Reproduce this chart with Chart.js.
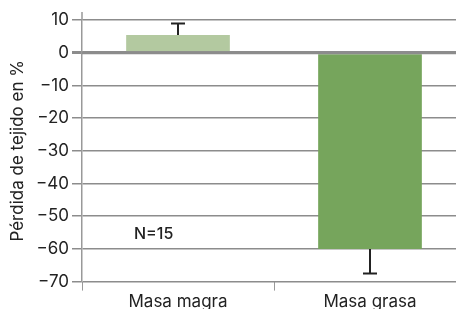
<!DOCTYPE html>
<html>
<head>
<meta charset="utf-8">
<script src="https://cdn.jsdelivr.net/npm/chart.js@4"></script>
<style>
  html, body { margin: 0; padding: 0; background: #fff; overflow: hidden; }
  #wrap { width: 466px; height: 313px; position: relative; }
</style>
</head>
<body>
<div id="wrap"><canvas id="chart"></canvas></div>
<script>
const categories = ['Masa magra', 'Masa grasa'];
const values = [5.4, -60];
const errors = [3.5, -7.5];
const barColors = ['#b3c9a0', '#76a55c'];
const yMin = -70, yMax = 10, yStep = 10;
const note = 'N=15';

const FONT = 'Inter, "Noto Sans", sans-serif';

const errorBars = {
    id: 'errorBars',
    afterDatasetsDraw(chart) {
        const ctx = chart.ctx;
        const y = chart.scales.y;
        const area = chart.chartArea;
        const meta = chart.getDatasetMeta(0);
        ctx.save();
        // zero line over the bars
        const y0line = y.getPixelForValue(0);
        ctx.strokeStyle = '#8c8c8c';
        ctx.lineWidth = 3;
        ctx.beginPath();
        ctx.moveTo(area.left, y0line);
        ctx.lineTo(area.right, y0line);
        ctx.stroke();

        ctx.strokeStyle = '#222';
        ctx.lineWidth = 2;
        meta.data.forEach((bar, i) => {
            const y0 = y.getPixelForValue(values[i]);
            const y1 = y.getPixelForValue(values[i] + errors[i]);
            ctx.beginPath();
            ctx.moveTo(bar.x, y0);
            ctx.lineTo(bar.x, y1);
            ctx.moveTo(bar.x - 7, y1);
            ctx.lineTo(bar.x + 7, y1);
            ctx.stroke();
        });
        // axis line sticks out a bit above the top
        ctx.strokeStyle = '#999';
        ctx.lineWidth = 1.5;
        ctx.beginPath();
        ctx.moveTo(area.left, area.top);
        ctx.lineTo(area.left, area.top - 8);
        ctx.stroke();
        // N label
        ctx.fillStyle = '#222';
        ctx.font = '500 16px ' + FONT;
        ctx.textBaseline = 'middle';
        ctx.fillText(note, chart.scales.x.getPixelForValue(0) - 44, y.getPixelForValue(-55.5));
        ctx.restore();
    }
};

new Chart(document.getElementById('chart'), {
    type: 'bar',
    data: {
        labels: categories,
        datasets: [{
            data: values,
            backgroundColor: barColors,
            borderWidth: 0,
            barPercentage: 0.54,
            categoryPercentage: 1
        }]
    },
    options: {
        responsive: true,
        maintainAspectRatio: false,
        animation: false,
        layout: { padding: { top: 20, left: 0, right: 0, bottom: 0 } },
        plugins: { legend: { display: false }, tooltip: { enabled: false } },
        scales: {
            x: {
                grid: { offset: true, drawOnChartArea: false, tickLength: 9, color: '#999', lineWidth: 1 },
                border: { display: false },
                ticks: { color: '#222', font: { family: FONT, size: 17 }, padding: 1 }
            },
            y: {
                min: yMin,
                max: yMax,
                afterFit(scale) { scale.width = 82; },
                grid: {
                    color: '#8c8c8c',
                    lineWidth: ctx => ctx.tick && ctx.tick.value === 0 ? 3 : 1.5,
                    tickLength: 10
                },
                border: { color: '#999', width: 1.5 },
                ticks: {
                    stepSize: yStep,
                    color: '#222',
                    padding: 3,
                    font: { family: FONT, size: 17 },
                    callback: v => String(v).replace('-', '\u2212')
                },
                title: {
                    display: true,
                    text: 'Pérdida de tejido en %',
                    color: '#222',
                    font: { family: FONT, size: 17 },
                    padding: { top: 8, bottom: 4 }
                }
            }
        }
    },
    plugins: [errorBars]
});
</script>
</body>
</html>
